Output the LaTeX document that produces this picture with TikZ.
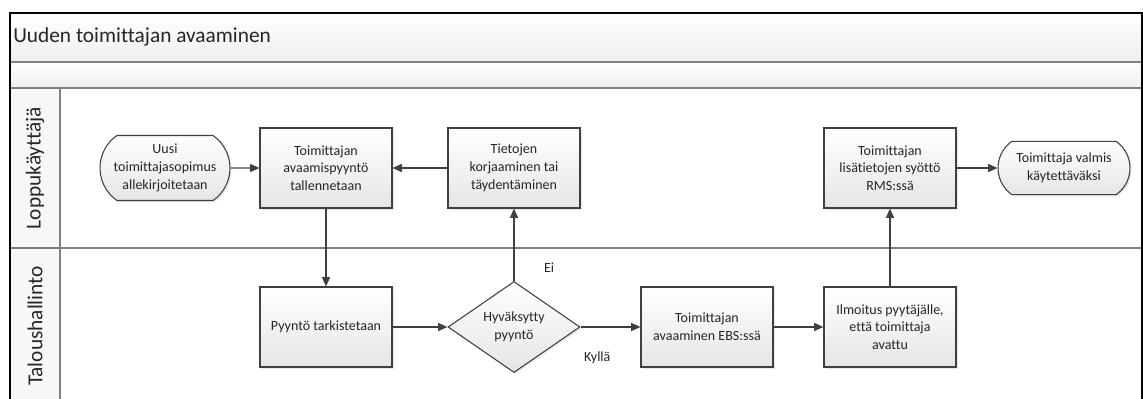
\documentclass[tikz,border=0pt]{standalone}
\usepackage{fontspec}
\setmainfont{Carlito}[Ligatures=NoCommon]
\usetikzlibrary{positioning,arrows.meta,shapes.geometric,shapes.misc,shadows}
\definecolor{lnline}{RGB}{64,64,64}
\definecolor{lngray}{RGB}{128,128,128}
\definecolor{lnband}{RGB}{238,238,238}

\begin{document}
\begin{tikzpicture}[
    x=0.75pt, y=-0.75pt,
    on grid,
    boxfont/.style={font=\fontsize{10.5}{13.3}\selectfont, text=black!85},
    process/.style={rectangle, draw=lnline, line width=0.8pt, top color=white, bottom color=black!10, minimum width=99pt, minimum height=60pt, align=center, boxfont, drop shadow={shadow xshift=1.2pt, shadow yshift=-1.2pt, opacity=0.18}},
    terminal/.style={rounded rectangle, rounded rectangle arc length=110, draw=lnline, line width=0.8pt, top color=white, bottom color=black!10, inner xsep=0pt, align=center, boxfont, drop shadow={shadow xshift=1.2pt, shadow yshift=-1.2pt, opacity=0.18}},
    decision/.style={diamond, draw=lnline, line width=0.8pt, top color=white, bottom color=black!10, inner sep=0pt, minimum width=99pt, minimum height=59pt, align=center, boxfont, drop shadow={shadow xshift=1.2pt, shadow yshift=-1.2pt, opacity=0.18}},
    lanetitle/.style={font=\fontsize{16}{19}\selectfont, text=black!85, inner sep=0pt},
    edgelabel/.style={boxfont, inner sep=0pt},
    arrow/.style={-{Triangle[length=7pt, width=6pt]}, line width=1pt, draw=lnline},
]
\useasboundingbox (0,0) rectangle (1143,399);

% Pool and lanes
\fill[top color=white, bottom color=lnband] (10,13) rectangle (1142,62);
\fill[top color=white, bottom color=lnband] (10,62) rectangle (1142,88);
\fill[lnband!50] (10,88) rectangle (60,399);
\draw[lngray, line width=1.5pt] (10,62) -- (1142,62) (10,88) -- (1142,88);
\draw[lngray, line width=1.1pt] (60,88) -- (60,399) (10,248) -- (1142,248);
\draw[black, line width=1.6pt] (10,399) -- (10,13) -- (1142,13) -- (1142,399);

\node[lanetitle, anchor=west] (title) at (13,37) {Uuden toimittajan avaaminen};
\node[lanetitle, rotate=90] (lane_user) at (35,168) {Loppukäyttäjä};
\node[lanetitle, rotate=90] (lane_fin) at (35,326) {Taloushallinto};

% Loppukäyttäjä lane
\node[terminal, minimum width=97.5pt, minimum height=48.75pt] (start) at (165,168) {Uusi\\toimittajasopimus\\allekirjoitetaan};
\node[process, right=120.75pt of start] (save_req) {Toimittajan\\avaamispyyntö\\tallennetaan};
\node[process, right=141pt of save_req] (fix_data) {Tietojen\\korjaaminen tai\\täydentäminen};

% Taloushallinto lane
\node[process, below=119.25pt of save_req] (check_req) {Pyyntö tarkistetaan};
\node[decision, right=141pt of check_req] (accepted) {Hyväksytty\\pyyntö};
\node[process, right=144.75pt of accepted] (open_ebs) {Toimittajan\\avaaminen EBS:ssä};
\node[process, right=137.25pt of open_ebs] (notify) {Ilmoitus pyytäjälle,\\että toimittaja\\avattu};

\node[process, above=119.25pt of notify] (rms_data) {Toimittajan\\lisätietojen syöttö\\RMS:ssä};
\node[terminal, minimum width=99pt, minimum height=40pt, right=130.5pt of rms_data] (ready) {Toimittaja valmis\\käytettäväksi};

% Arrows
\draw[arrow] (start) -- (save_req);
\draw[arrow] (save_req) -- (check_req);
\draw[arrow] (check_req) -- (accepted);
\draw[arrow] (accepted.north) -- (fix_data.south) node[edgelabel, pos=0.18, right=22pt] {Ei};
\draw[arrow] (fix_data) -- (save_req);
\draw[arrow] (accepted.east) -- (open_ebs.west) node[edgelabel, pos=0.28, below=18pt] {Kyllä};
\draw[arrow] (open_ebs) -- (notify);
\draw[arrow] (notify) -- (rms_data);
\draw[arrow] (rms_data) -- (ready);

\end{tikzpicture}
\end{document}
